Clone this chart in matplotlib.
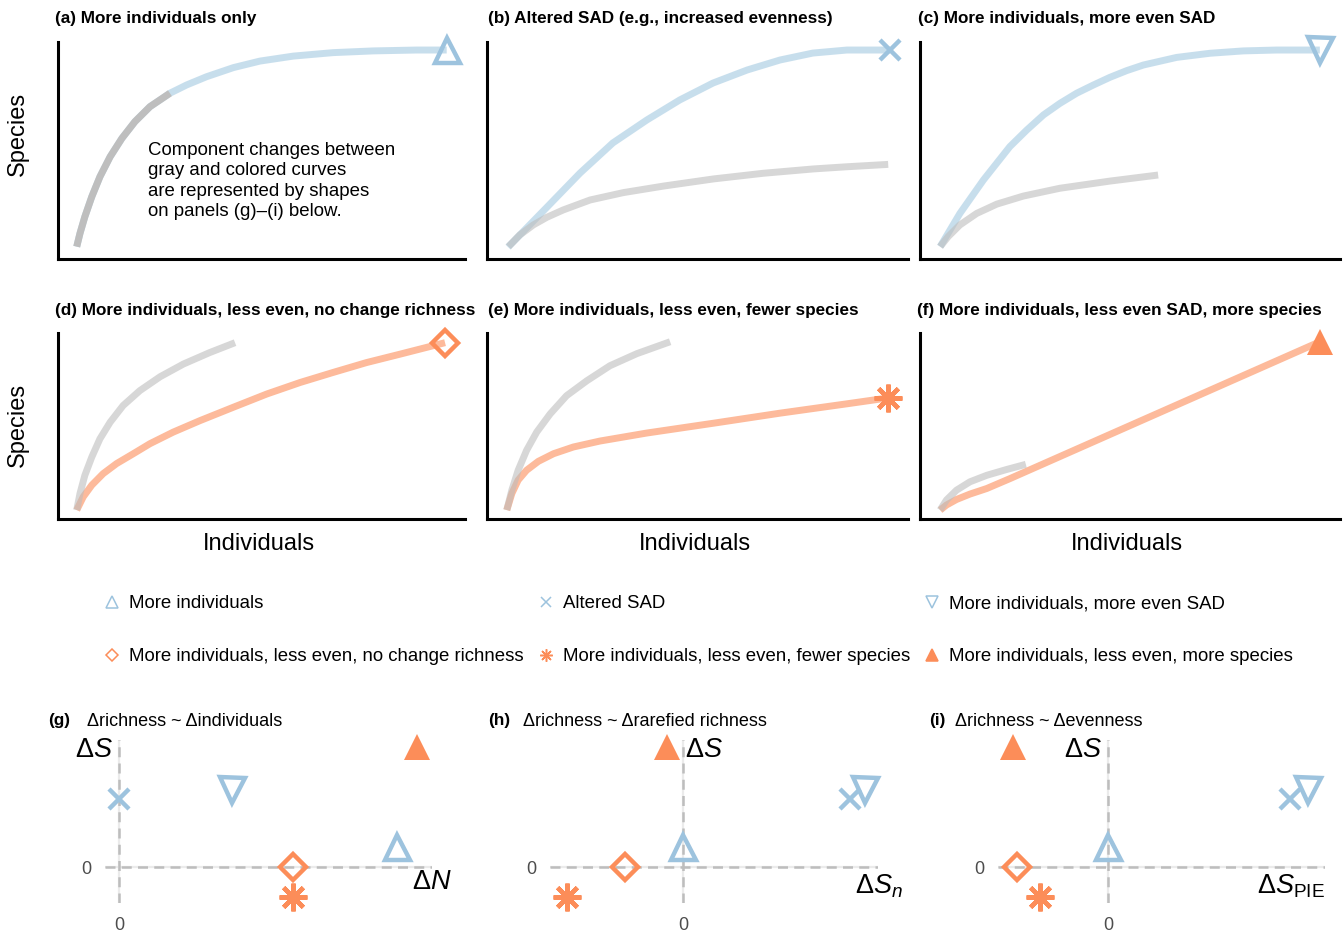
import matplotlib
matplotlib.use('Agg')
import matplotlib.pyplot as plt
from matplotlib.lines import Line2D

plt.rcParams['font.family'] = ['Liberation Sans', 'DejaVu Sans']
plt.rcParams['mathtext.fontset'] = 'custom'
plt.rcParams['mathtext.rm'] = 'Liberation Sans'
plt.rcParams['mathtext.it'] = 'Liberation Sans:italic'

W, H = 1343, 934

# colours
blue = '#9dc3de'
orange = '#fc8d59'
curve_blue = '#91bfdb'
curve_orange = '#fc8d59'
gray_a = '#bebebe'
gray_curve = '#bdbdbd'

# ---- schematic rarefaction curves (x = individuals, y = species, 0-1 per panel)
a_gray_x = [0.046, 0.054, 0.066, 0.083, 0.103, 0.128, 0.157, 0.189, 0.226, 0.275]
a_gray_y = [0.057, 0.118, 0.195, 0.287, 0.379, 0.471, 0.556, 0.633, 0.702, 0.764]
a_col_x = a_gray_x + [0.316, 0.365, 0.431, 0.496, 0.578, 0.676, 0.775, 0.881, 0.955]
a_col_y = a_gray_y + [0.802, 0.840, 0.882, 0.912, 0.935, 0.951, 0.959, 0.963, 0.963]

b_gray_x = [0.051, 0.078, 0.110, 0.142, 0.181, 0.245, 0.324, 0.419, 0.538, 0.656, 0.775, 0.854, 0.953]
b_gray_y = [0.057, 0.111, 0.157, 0.192, 0.226, 0.272, 0.306, 0.336, 0.369, 0.395, 0.415, 0.425, 0.436]
b_col_x = [0.050, 0.143, 0.221, 0.299, 0.380, 0.458, 0.537, 0.618, 0.696, 0.774, 0.855, 0.957]
b_col_y = [0.055, 0.240, 0.396, 0.535, 0.641, 0.733, 0.811, 0.871, 0.917, 0.949, 0.963, 0.963]

c_gray_x = [0.048, 0.067, 0.095, 0.135, 0.183, 0.246, 0.333, 0.452, 0.567]
c_gray_y = [0.057, 0.103, 0.157, 0.210, 0.253, 0.290, 0.326, 0.359, 0.387]
c_col_x = [0.048, 0.095, 0.151, 0.214, 0.254, 0.294, 0.333, 0.373, 0.413, 0.452, 0.492,
           0.532, 0.611, 0.690, 0.770, 0.849, 0.952]
c_col_y = [0.057, 0.210, 0.364, 0.518, 0.594, 0.664, 0.717, 0.764, 0.802, 0.837, 0.868,
           0.894, 0.929, 0.948, 0.959, 0.963, 0.963]

d_gray_x = [0.046, 0.054, 0.066, 0.083, 0.103, 0.128, 0.160, 0.201, 0.251, 0.308, 0.373, 0.435]
d_gray_y = [0.048, 0.137, 0.235, 0.333, 0.431, 0.520, 0.610, 0.690, 0.765, 0.833, 0.895, 0.948]
d_col_x = [0.046, 0.062, 0.083, 0.111, 0.144, 0.185, 0.226, 0.283, 0.349, 0.431, 0.513,
           0.595, 0.676, 0.758, 0.840, 0.951]
d_col_y = [0.048, 0.119, 0.182, 0.244, 0.298, 0.351, 0.405, 0.467, 0.529, 0.601, 0.672,
           0.734, 0.788, 0.841, 0.886, 0.948]

e_gray_x = [0.047, 0.059, 0.074, 0.094, 0.118, 0.150, 0.189, 0.237, 0.292, 0.356, 0.435]
e_gray_y = [0.048, 0.155, 0.262, 0.369, 0.467, 0.565, 0.663, 0.743, 0.824, 0.889, 0.953]
e_col_x = [0.047, 0.059, 0.074, 0.094, 0.122, 0.158, 0.205, 0.268, 0.379, 0.538, 0.696, 0.854, 0.953]
e_col_y = [0.048, 0.137, 0.209, 0.262, 0.310, 0.351, 0.387, 0.419, 0.462, 0.515, 0.569, 0.619, 0.651]

f_gray_x = [0.048, 0.063, 0.087, 0.119, 0.159, 0.206, 0.252]
f_gray_y = [0.048, 0.102, 0.155, 0.200, 0.235, 0.266, 0.294]
f_col_x = [0.048, 0.063, 0.087, 0.119, 0.159, 0.214, 0.952]
f_col_y = [0.048, 0.075, 0.105, 0.134, 0.164, 0.217, 0.953]

# ---- component changes (g)-(i)
scenarios = ['More individuals', 'Altered SAD', 'More individuals, more even SAD',
             'More individuals, less even, no change richness',
             'More individuals, less even, fewer species',
             'More individuals, less even, more species']
dS = [0.20, 0.68, 0.77, 0.0, -0.30, 1.20]
dN = [2.78, 0.0, 1.13, 1.74, 1.74, 2.98]
dSn = [0.0, 1.67, 1.82, -0.58, -1.16, -0.16]
dSpie = [0.0, 1.82, 2.00, -0.91, -0.68, -0.95]

# marker, colour, face, size
mstyle = [('^', blue, 'none', 18),
          ('x', blue, blue, 15),
          ('v', blue, 'none', 18),
          ('D', orange, 'none', 13),
          ((8, 2, 0), orange, orange, 20),
          ('^', orange, orange, 19)]


def box(x0, x1, y0, y1):
    return [x0 / W, 1 - y1 / H, (x1 - x0) / W, (y1 - y0) / H]


def fx(px):
    return px / W


def fy(py):
    return 1 - py / H


def mark(ax, x, y, k, mew=3.2):
    m, c, fc, s = mstyle[k]
    ax.plot([x], [y], linestyle='none', marker=m, ms=s, mec=c,
            mfc=fc, mew=mew if fc == 'none' or m in ('x', (8, 2, 0)) else 0,
            clip_on=False, zorder=5)


fig = plt.figure(figsize=(W / 100, H / 100), dpi=100)

top_panels = [
    ('(a) More individuals only', box(58, 465, 42, 259), a_gray_x, a_gray_y, a_col_x, a_col_y, 0, 55, 18),
    ('(b) Altered SAD (e.g., increased evenness)', box(487, 908, 42, 259), b_gray_x, b_gray_y, b_col_x, b_col_y, 1, 488, 18),
    ('(c) More individuals, more even SAD', box(920, 1340, 42, 259), c_gray_x, c_gray_y, c_col_x, c_col_y, 2, 918, 18),
    ('(d) More individuals, less even, no change richness', box(58, 465, 333, 519), d_gray_x, d_gray_y, d_col_x, d_col_y, 3, 55, 310),
    ('(e) More individuals, less even, fewer species', box(487, 908, 333, 519), e_gray_x, e_gray_y, e_col_x, e_col_y, 4, 488, 310),
    ('(f) More individuals, less even SAD, more species', box(920, 1340, 333, 519), f_gray_x, f_gray_y, f_col_x, f_col_y, 5, 917, 310),
]

for i, (title, pos, gx, gy, cx, cy, k, tx, ty) in enumerate(top_panels):
    ax = fig.add_axes(pos)
    ax.set_xlim(0, 1)
    ax.set_ylim(0, 1)
    for s in ['top', 'right']:
        ax.spines[s].set_visible(False)
    for s in ['left', 'bottom']:
        ax.spines[s].set_linewidth(2.2)
    ax.set_xticks([])
    ax.set_yticks([])
    col = curve_blue if k < 3 else curve_orange
    kw = dict(lw=5, solid_capstyle='butt', solid_joinstyle='round')
    if i == 0:
        ax.plot(cx, cy, color=col, alpha=0.5, **kw)
        ax.plot(gx, gy, color=gray_a, **kw)
    else:
        ax.plot(cx, cy, color=col, alpha=0.5 if k < 3 else 0.6, **kw)
        ax.plot(gx, gy, color=gray_curve, alpha=0.6, **kw)
    mark(ax, cx[-1], cy[-1], k)
    fig.text(fx(tx), fy(ty), title, fontsize=12.3, fontweight='bold', ha='left', va='center')

fig.text(fx(148), fy(142), 'Component changes between\ngray and colored curves\nare represented by shapes\non panels (g)\u2013(i) below.',
         fontsize=13.4, ha='left', va='top', linespacing=1.26)

for yc in [134, 425]:
    fig.text(fx(18), fy(yc), 'Species', fontsize=17, rotation=90, ha='center', va='center')
for xc in [259, 695, 1127]:
    fig.text(fx(xc), fy(544), 'Individuals', fontsize=17, ha='center', va='center')

# legend
handles = []
for m, c, fc, s in mstyle:
    handles.append(Line2D([], [], linestyle='none', marker=m, color=c, mec=c,
                          mfc=fc, ms=s * 0.45, mew=1.1))
order = [0, 3, 1, 4, 2, 5]
fig.legend([handles[j] for j in order], [scenarios[j] for j in order],
           loc='upper left', bbox_to_anchor=(fx(103), fy(595)), ncol=3,
           frameon=False, fontsize=13.4, borderpad=0, borderaxespad=0,
           handlelength=1.0, handletextpad=0.4, columnspacing=0.7,
           labelspacing=1.95)

# bottom panels
bottom = [
    ('(g)', '\u0394richness ~ \u0394individuals', box(105, 432, 740, 903), dN, (-0.14, 3.13),
     48, 87, r'$\Delta N$', (3.33, -0.15), (-0.06, 1.17)),
    ('(h)', '\u0394richness ~ \u0394rarefied richness', box(550, 878, 740, 903), dSn, (-1.33, 1.95),
     488, 523, r'$\Delta S_n$', (2.20, -0.19), (0.02, 1.17)),
    ('(i)', '\u0394richness ~ \u0394evenness', box(998, 1325, 740, 903), dSpie, (-1.10, 2.17),
     929, 955, r'$\Delta S_{\mathrm{PIE}}$', (2.17, -0.19), (-0.06, 1.17)),
]

for lab, title, pos, xv, xl, lx, tx, xlab, xlabpos, ylabpos in bottom:
    ax = fig.add_axes(pos)
    ax.set_xlim(*xl)
    ax.set_ylim(-0.36, 1.27)
    for s in ax.spines.values():
        s.set_visible(False)
    ax.set_xticks([0])
    ax.set_yticks([0])
    ax.tick_params(length=0, labelsize=13, labelcolor='#4d4d4d', pad=10)
    ax.grid(True, color='#ebebeb', lw=1.6)
    ax.set_axisbelow(True)
    ax.axhline(0, color='#bdbdbd', lw=1.8, ls=(0, (4, 2.5)), zorder=2)
    ax.axvline(0, color='#bdbdbd', lw=1.8, ls=(0, (4, 2.5)), zorder=2)
    for k in range(6):
        mark(ax, xv[k], dS[k], k)
    ax.text(xlabpos[0], xlabpos[1], xlab, fontsize=19.5, ha='right', va='center', clip_on=False)
    ax.text(ylabpos[0], ylabpos[1], r'$\Delta S$', fontsize=19.5,
            ha='right' if ylabpos[0] < 0 else 'left', va='center', clip_on=False)
    fig.text(fx(lx), fy(721), lab, fontsize=12.3, fontweight='bold', ha='left', va='center')
    fig.text(fx(tx), fy(721), title, fontsize=13, ha='left', va='center')

fig.savefig('out.png', dpi=100)
